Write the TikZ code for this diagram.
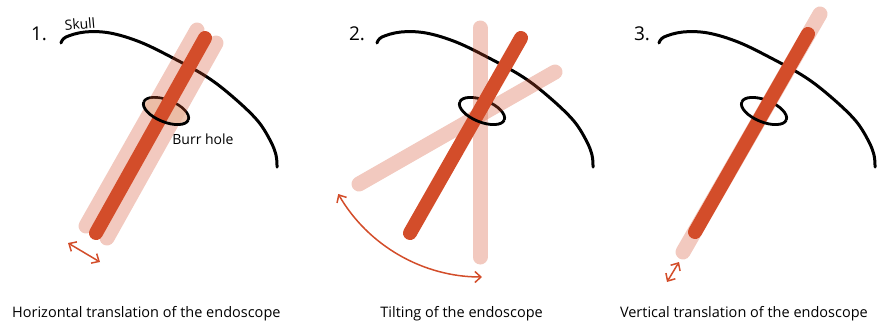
\documentclass[tikz,border=0pt]{standalone}
\usepackage{fontspec}
\setmainfont{Open Sans}
\usetikzlibrary{arrows.meta}
\definecolor{rodred}{RGB}{211,77,42}
\definecolor{ringfill}{RGB}{234,186,160}
\begin{document}
\begin{tikzpicture}[x=1pt,y=-1pt,
  skull/.style={line width=3pt, black, line cap=round},
  ring/.style={line width=2.8pt, black},
  rod/.style={line width=14pt, rodred, line cap=round},
  ghost/.style={line width=15pt, rodred, opacity=0.3, line cap=round},
  move/.style={line width=1.5pt, rodred, {Straight Barb[length=6pt,width=11pt]}-{Straight Barb[length=6pt,width=11pt]}},
  lbl/.style={font=\fontsize{14.5}{16}\selectfont, inner sep=0pt},
  num/.style={font=\fontsize{19}{21}\selectfont, inner sep=0pt},
  small/.style={font=\fontsize{14}{16}\selectfont, inner sep=0pt},
]
\useasboundingbox (0,0) rectangle (877,325);

% ---- skull outlines
\foreach \dx in {0,316,598}{
  \begin{scope}[xshift=\dx pt]
    \draw[skull] plot[smooth, tension=0.6] coordinates {(61,43) (66,37) (85,32) (110,33) (140,42) (173,58) (207,77) (233,97) (257,120) (270,140) (276,155) (277,167)};
  \end{scope}
}

% ---- burr holes (back halves)
\foreach \cx in {166,482,764}{
  \begin{scope}[shift={(\cx,111)}, rotate=-22]
    \draw[ring] (-24,0) arc[start angle=180, end angle=360, x radius=24, y radius=11];
  \end{scope}
}

% ---- panel 1
\draw[ghost] (197,30) -- (86,226);
\draw[ghost] (216,43) -- (107,238);
\begin{scope}[shift={(166,111)}, rotate=-22]
  \fill[ringfill, opacity=0.8] (0,0) ellipse[x radius=22.6, y radius=9.6];
\end{scope}
\draw[rod] (205,38) -- (96,233);
\coordinate (h1) at (68,243);
\coordinate (h2) at (100,262);
\draw[move] (h1) -- (h2);

% ---- panel 2
\draw[ghost] (480,28) -- (480,257);
\draw[ghost] (555,72) -- (359,184);
\draw[rod] (521,38) -- (410,233);
\coordinate (c2) at (482,111);
\draw[move] (c2) ++(150:166) arc[start angle=150, end angle=90, radius=166];

% ---- panel 3
\draw[ghost] (820,14) -- (683,252);
\draw[rod] (808,34) -- (695,232);
\coordinate (v1) at (667,282);
\coordinate (v2) at (679,262);
\draw[move] (v1) -- (v2);

% ---- burr holes (front halves)
\foreach \cx in {166,482,764}{
  \begin{scope}[shift={(\cx,111)}, rotate=-22]
    \draw[ring] (24,0) arc[start angle=0, end angle=180, x radius=24, y radius=11];
  \end{scope}
}

% ---- texts
\node[num] (n1) at (39,34) {1.};
\node[num] (n2) at (357,34) {2.};
\node[num] (n3) at (642,34) {3.};
\node[small, rotate=5] (sk) at (80,24) {Skull};
\node[small] (bh) at (203,139) {Burr hole};
\node[lbl, anchor=base west] (l1) at (12,317.5) {Horizontal translation of the endoscope};
\node[lbl, anchor=base east] (l2) at (543,317.5) {Tilting of the endoscope};
\node[lbl, anchor=base east] (l3) at (868,317.5) {Vertical translation of the endoscope};
\end{tikzpicture}
\end{document}
